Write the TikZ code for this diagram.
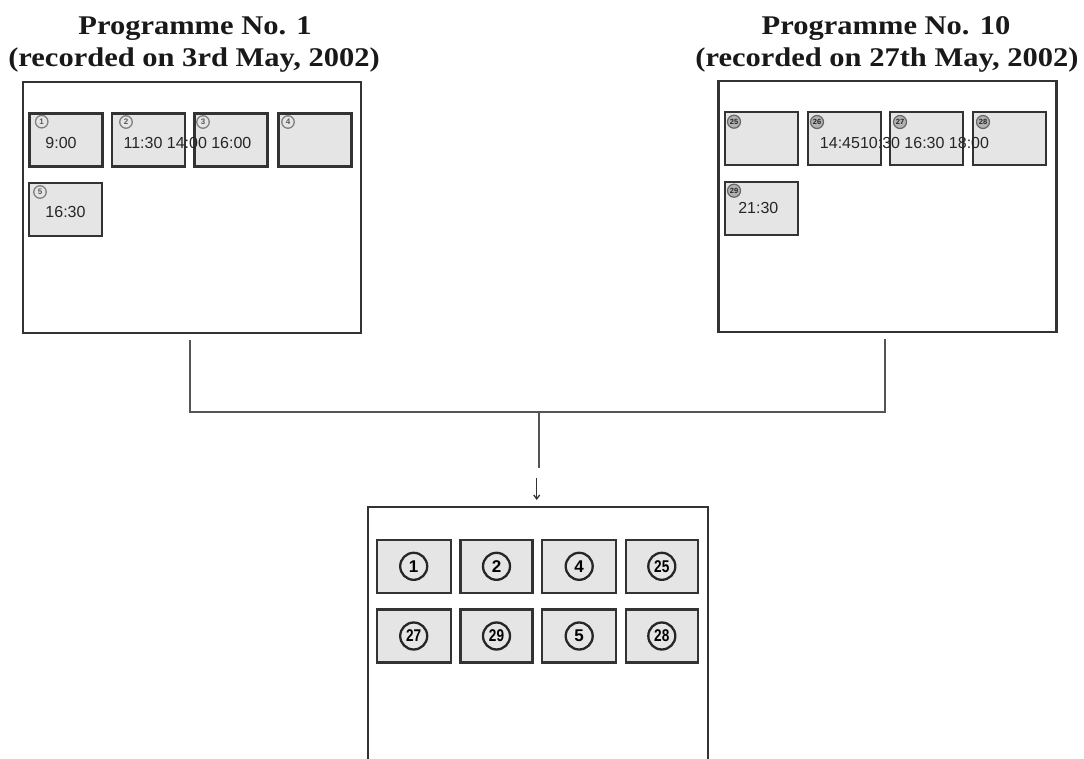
\documentclass[tikz,border=0pt]{standalone}
\usepackage{fontspec}
\setmainfont{Liberation Serif}
\newfontfamily\sansf{Liberation Sans}
\usetikzlibrary{arrows.meta}
\definecolor{lineg}{HTML}{333333}
\definecolor{wireg}{HTML}{555555}
\definecolor{thumbg}{HTML}{E5E5E5}
\tikzset{
  titletxt/.style={anchor=base, inner sep=0pt, font=\fontsize{27}{32}\selectfont\bfseries, text=black!90},
  panelbox/.style={draw=lineg, line width=2.2pt, minimum width=338pt, minimum height=251pt, inner sep=0pt},
  thumb/.style={draw=lineg, line width=2.2pt, fill=thumbg, minimum width=73pt, minimum height=53pt, inner sep=0pt},
  smallnum/.style={circle, draw=gray, line width=1.3pt, minimum size=12.5pt, inner sep=0pt, font=\sansf\bfseries\fontsize{8}{8}\selectfont, text=black!65},
  darknum/.style={circle, draw=black!60, fill=gray!60, line width=1.2pt, minimum size=13pt, inner sep=0pt, font=\sansf\bfseries\fontsize{7.5}{7.5}\selectfont, text=black!85},
  bignum/.style={circle, draw=black!85, line width=2.3pt, minimum size=27pt, inner sep=0pt, font=\sansf\bfseries\fontsize{17}{17}\selectfont},
  timetxt/.style={inner sep=0pt, font=\sansf\fontsize{16}{16}\selectfont, text=black!85},
  wire/.style={draw=wireg, line width=2pt},
}
\begin{document}
\begin{tikzpicture}[x=1pt,y=-1pt]
\useasboundingbox (0,0) rectangle (1084,759);
% titles
\node[titletxt] (t1a) at (195,35) {\scalebox{1.13}[1]{Programme No. 1}};
\node[titletxt] (t1b) at (194,67) {\scalebox{1.13}[1]{(recorded on 3rd May, 2002)}};
\node[titletxt] (t2a) at (886,35) {\scalebox{1.13}[1]{Programme No. 10}};
\node[titletxt] (t2b) at (887,67) {\scalebox{1.13}[1]{(recorded on 27th May, 2002)}};
% panels
\node[panelbox] (P1) at (192,207.5) {};
\node[panelbox] (P10) at (887.5,206.5) {};
\node[panelbox, draw=none, minimum height=262pt] (R) at (538,639) {};
\draw[draw=lineg, line width=2.2pt] (R.south west) |- (R.north east) -- (R.south east);
% left panel thumbs
\node[thumb] (a1) at (66,140) {};
\node[thumb] (a2) at (148.5,140) {};
\node[thumb] (a3) at (231,140) {};
\node[thumb] (a4) at (315,140) {};
\node[thumb] (a5) at (65.7,209.7) {};
\node[smallnum] (n1) at (41.7,121.7) {1};
\node[smallnum] (n2) at (126,122) {2};
\node[smallnum] (n3) at (203,122) {3};
\node[smallnum] (n4) at (288,122) {4};
\node[smallnum] (n5) at (40,192) {5};
\node[timetxt] (s1) at (61,143) {9:00};
\node[timetxt] (s2) at (187.5,143) {11:30 14:00 16:00};
\node[timetxt] (s5) at (65.5,211.7) {16:30};
% right panel thumbs
\node[thumb] (b25) at (761.3,138.3) {};
\node[thumb] (b26) at (844.3,138.3) {};
\node[thumb] (b27) at (926.8,138.3) {};
\node[thumb] (b28) at (1009.5,138.3) {};
\node[thumb] (b29) at (761.3,208.7) {};
\node[darknum] (m25) at (734,121.7) {25};
\node[darknum] (m26) at (817,122) {26};
\node[darknum] (m27) at (900,122) {27};
\node[darknum] (m28) at (983,122) {28};
\node[darknum] (m29) at (734,190.7) {29};
\node[timetxt] (s26) at (904.5,142.7) {14:4510:30 16:30 18:00};
\node[timetxt] (s29) at (758.3,208) {21:30};
% result thumbs
\node[thumb, minimum width=74pt] (r1) at (413.7,566.3) {};
\node[thumb, minimum width=72pt] (r2) at (496.5,566.3) {};
\node[thumb, minimum width=74pt] (r3) at (579.2,566.3) {};
\node[thumb, minimum width=72pt] (r4) at (661.8,566.3) {};
\node[thumb, minimum width=74pt] (r5) at (413.7,636) {};
\node[thumb, minimum width=72pt] (r6) at (496.5,636) {};
\node[thumb, minimum width=74pt] (r7) at (579.2,636) {};
\node[thumb, minimum width=72pt] (r8) at (661.8,636) {};
\node[bignum] (c1) at (r1) {1};
\node[bignum] (c2) at (r2) {2};
\node[bignum] (c3) at (r3) {4};
\node[bignum] (c4) at (r4) {\scalebox{0.8}[1]{25}};
\node[bignum] (c5) at (r5) {\scalebox{0.8}[1]{27}};
\node[bignum] (c6) at (r6) {\scalebox{0.8}[1]{29}};
\node[bignum] (c7) at (r7) {5};
\node[bignum] (c8) at (r8) {\scalebox{0.8}[1]{28}};
% connectors
\coordinate (hub) at (539.3,412);
\coordinate (stem) at (539.3,468);
\coordinate (arA) at (536.7,478);
\coordinate (arB) at (536.7,500);
\draw[wire, shorten <=6pt] ([xshift=-2pt]P1.south) |- (hub);
\draw[wire, shorten <=6pt] ([xshift=-2.5pt]P10.south) |- (hub);
\draw[wire] (hub) -- (stem);
\draw[draw=black!80, line width=1.3pt, -{Straight Barb[length=4pt,width=6pt]}] (arA) -- (arB);
\end{tikzpicture}
\end{document}
